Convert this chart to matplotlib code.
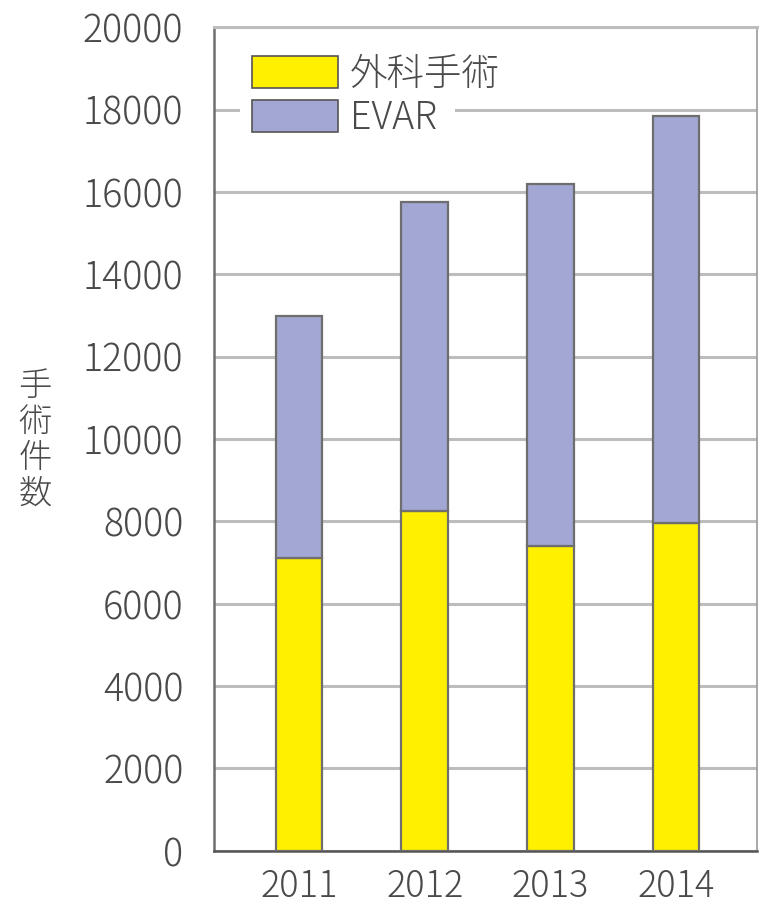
import matplotlib
matplotlib.use("Agg")
import matplotlib.pyplot as plt
from matplotlib.patches import Rectangle
import numpy as np

plt.rcParams['font.family'] = ['Noto Sans CJK JP', 'DejaVu Sans']
plt.rcParams['font.weight'] = 'light'

years = ['2011', '2012', '2013', '2014']
surgery = [7100, 8250, 7400, 7950]      # 外科手術
evar = [5900, 7500, 8800, 9900]         # EVAR
series_labels = ['外科手術', 'EVAR']

text_color = '#4a4a4a'
yellow = '#fff000'
lavender = '#a2a7d4'

fig = plt.figure(figsize=(7.59, 9.09), dpi=100)
ax = fig.add_axes([0.282, 0.064, 0.715, 0.906])

x = np.arange(len(years))
w = 0.37
ax.bar(x, surgery, w, color=yellow, edgecolor='#6e6e6e', linewidth=1.6,
       label=series_labels[0], zorder=3)
ax.bar(x, evar, w, bottom=surgery, color=lavender, edgecolor='#6e6e6e',
       linewidth=1.6, label=series_labels[1], zorder=3)

ax.set_xlim(-0.675, 3.64)
ax.set_ylim(0, 20000)
ax.set_yticks(range(0, 20001, 2000))
ax.set_xticks(x)
ax.set_xticklabels(years)
ax.yaxis.grid(True, color='#bdbdbd', linewidth=2.2, zorder=0)
ax.set_axisbelow(True)

ax.tick_params(axis='both', length=0, labelsize=27, colors=text_color)
ax.tick_params(axis='y', pad=22)
ax.tick_params(axis='x', pad=12, labelsize=26)

ax.spines['left'].set_color('#6e6e6e')
ax.spines['left'].set_linewidth(1.8)
ax.spines['bottom'].set_color('#555555')
ax.spines['bottom'].set_linewidth(1.8)
ax.spines['top'].set_color('#bdbdbd')
ax.spines['top'].set_linewidth(2.2)
ax.spines['right'].set_color('#9a9a9a')
ax.spines['right'].set_linewidth(1.2)

# white backing behind the legend block
ax.add_patch(Rectangle((0.048, 0.875), 0.396, 0.105, transform=ax.transAxes,
                       facecolor='white', edgecolor='none', zorder=2))

leg = ax.legend(loc='upper left', bbox_to_anchor=(0.008, 1.008), fontsize=27,
                handlelength=2.3, handleheight=0.9, labelspacing=0.12,
                handletextpad=0.3, borderpad=0.4, frameon=False)
for t in leg.get_texts():
    t.set_color(text_color)
for h in leg.legend_handles:
    h.set_edgecolor('#555555')
    h.set_linewidth(1.2)

fig.text(0.046, 0.515, '手\n術\n件\n数', fontsize=24, color=text_color,
         ha='center', va='center', linespacing=1.05)

fig.savefig('out.png', dpi=100)
